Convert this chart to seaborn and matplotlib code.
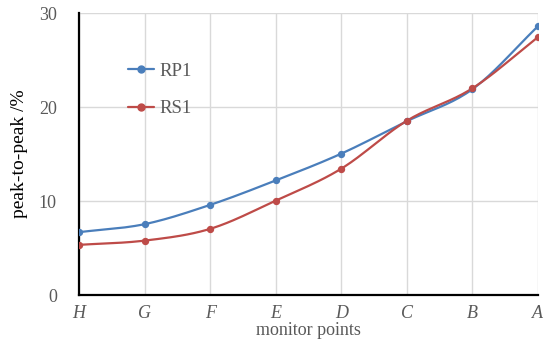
import numpy as np
import pandas as pd
import matplotlib
matplotlib.use('Agg')
import matplotlib.pyplot as plt
import seaborn as sns

# monitor points, left to right
points = ['H', 'G', 'F', 'E', 'D', 'C', 'B', 'A']
rp1 = [6.7, 7.55, 9.6, 12.2, 15.05, 18.5, 21.9, 28.6]
rs1 = [5.35, 5.8, 7.05, 10.05, 13.45, 18.55, 22.0, 27.45]

BLUE = '#4A7EBB'
RED = '#BE4B48'
GRAY = '#595959'


def smooth(x, y, n=20):
    """Catmull-Rom style smoothing between points (like Excel's smoothed line)"""
    x = np.asarray(x, float)
    y = np.asarray(y, float)
    px = np.concatenate([[2 * x[0] - x[1]], x, [2 * x[-1] - x[-2]]])
    py = np.concatenate([[2 * y[0] - y[1]], y, [2 * y[-1] - y[-2]]])
    xs, ys = [], []
    for i in range(1, len(px) - 2):
        t = np.linspace(0, 1, n, endpoint=False)
        for arr, out in ((px, xs), (py, ys)):
            p0, p1, p2, p3 = arr[i - 1], arr[i], arr[i + 1], arr[i + 2]
            out.extend(0.5 * ((2 * p1) + (-p0 + p2) * t
                              + (2 * p0 - 5 * p1 + 4 * p2 - p3) * t ** 2
                              + (-p0 + 3 * p1 - 3 * p2 + p3) * t ** 3))
    xs.append(x[-1])
    ys.append(y[-1])
    return np.array(xs), np.array(ys)


sns.set_style('white')
plt.rcParams['font.family'] = ['Liberation Serif', 'DejaVu Serif']

df = pd.DataFrame({
    'pos': list(range(len(points))) * 2,
    'value': rp1 + rs1,
    'series': ['RP1'] * len(points) + ['RS1'] * len(points),
})

fig = plt.figure(figsize=(5.5, 3.46), dpi=100)
ax = fig.add_axes([0.1436, 0.147, 0.8344, 0.815])

for name, color in (('RP1', BLUE), ('RS1', RED)):
    sub = df[df['series'] == name]
    sx, sy = smooth(sub['pos'], sub['value'])
    ax.plot(sx, sy, color=color, lw=1.6, zorder=3)
    sns.scatterplot(data=sub, x='pos', y='value', color=color, s=28,
                    edgecolor=color, linewidth=0, ax=ax, zorder=4, legend=False)

# legend handles
handles = [plt.Line2D([], [], color=BLUE, lw=1.6, marker='o', ms=5),
           plt.Line2D([], [], color=RED, lw=1.6, marker='o', ms=5)]
leg = ax.legend(handles, ['RP1', 'RS1'], loc='upper left',
                bbox_to_anchor=(0.07, 0.885), frameon=False, fontsize=13.5,
                handlelength=1.4, handletextpad=0.3, labelspacing=1.1)
for t in leg.get_texts():
    t.set_color(GRAY)

ax.set_xlim(0, len(points) - 1)
ax.set_ylim(0, 30)
ax.set_xticks(range(len(points)))
ax.set_xticklabels(points, style='italic')
ax.set_yticks([0, 10, 20, 30])
ax.grid(True, color='#D9D9D9', lw=1.0)
ax.set_axisbelow(True)

for s in ('top', 'right'):
    ax.spines[s].set_visible(False)
for s in ('left', 'bottom'):
    ax.spines[s].set_color('black')
    ax.spines[s].set_linewidth(1.6)

ax.tick_params(axis='both', direction='in', length=5, width=1.4,
               colors='black', labelcolor=GRAY, labelsize=13, pad=7)
ax.tick_params(axis='y', pad=16)

ax.set_xlabel('monitor points', fontsize=13, color=GRAY, labelpad=0)
ax.set_ylabel('peak-to-peak /%', fontsize=14, color='black', labelpad=8)

fig.savefig('out.png', dpi=100)
